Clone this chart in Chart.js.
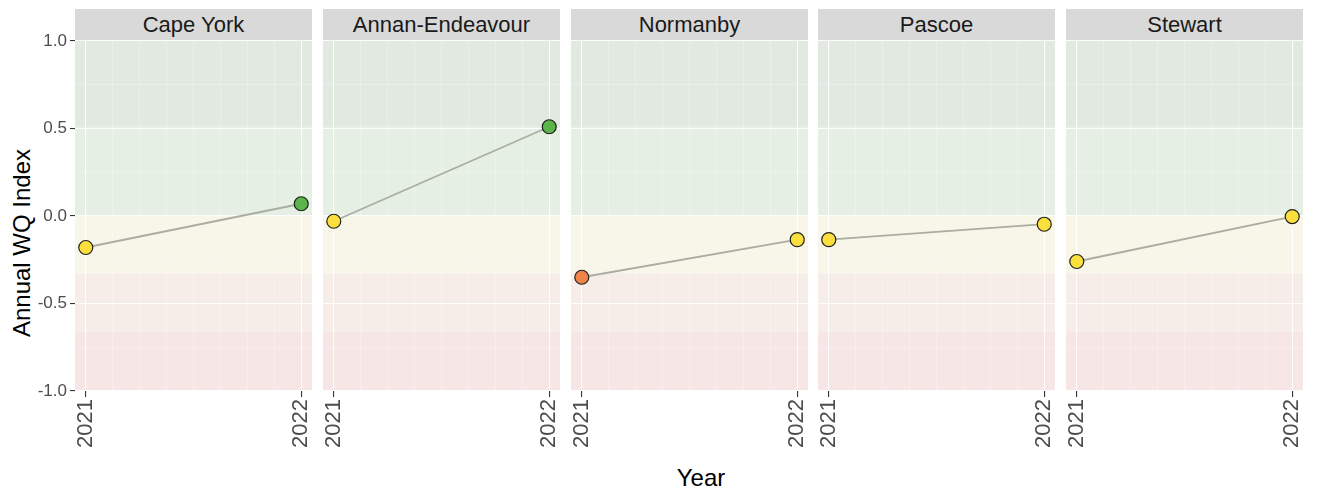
<!DOCTYPE html>
<html lang="en">
<head>
<meta charset="UTF-8">
<title>Annual WQ Index by basin</title>
<script src="https://cdn.jsdelivr.net/npm/chart.js"></script>
<style>
  body { margin: 0; background: #fff; font-family: "Liberation Sans", Arial, sans-serif; }
  #wrap { position: relative; width: 1318px; height: 491px; overflow: hidden; }
  canvas { position: absolute; top: 0; }
  .strip {
    position: absolute; top: 9px; height: 32px; line-height: 32px;
    background: #d9d9d9; color: #1a1a1a; font-size: 22px; text-align: center;
  }
  #xtitle {
    position: absolute; top: 464px; left: 601px; width: 200px;
    text-align: center; font-size: 24px; color: #000;
  }
  #ytitle {
    position: absolute; left: -78px; top: 229px; width: 200px; height: 28px; line-height: 28px;
    text-align: center; font-size: 24px; color: #000;
    transform: rotate(-90deg);
  }
</style>
</head>
<body>
<div id="wrap">
  <div id="ytitle">Annual WQ Index</div>
  <div id="xtitle">Year</div>
</div>

<script>
  // facets and values
  const basins = ["Cape York", "Annan-Endeavour", "Normanby", "Pascoe", "Stewart"];
  const years = [2021, 2022];
  const capeYork = [-0.18, 0.07];
  const annanEndeavour = [-0.03, 0.51];
  const normanby = [-0.35, -0.135];
  const pascoe = [-0.135, -0.047];
  const stewart = [-0.26, -0.003];
  const basinValues = [capeYork, annanEndeavour, normanby, pascoe, stewart];

  // y axis ticks
  const yMajor = [1, 0.5, 0, -0.5, -1];
  const yTickLabels = ["1.0", "0.5", "0.0", "-0.5", "-1.0"];
  const yGrid = [1, 0.75, 0.5, 0.25, 0, -0.25, -0.5, -0.75, -1];
  const xGrid = [2021, 2021.125, 2021.25, 2021.375, 2021.5, 2021.625, 2021.75, 2021.875, 2022];

  // grade bands (top to bottom)
  const bandEdges = [1, 0.51, 0, -0.33, -0.66, -1];
  const bandFills = ["#e1e9e1", "#e6efe4", "#f8f6e8", "#f6ece8", "#f6e6e5"];
  const gradeColours = ["#2e8b3e", "#5bb54a", "#fbe03d", "#f0834a", "#e0463c"];

  function gradeColour(v) {
    for (let i = 0; i < bandEdges.length - 1; i++) {
      if (i === 0 ? v > bandEdges[1] : v >= bandEdges[i + 1]) return gradeColours[i];
    }
    return gradeColours[gradeColours.length - 1];
  }

  // layout
  const panelLeft = [75, 323, 571, 818, 1066];
  const panelWidth = 237;
  const yAxisWidth = 75;
  const canvasHeight = 451;
  const fontFamily = "'Liberation Sans', Arial, sans-serif";

  const bandPlugin = {
    id: "bands",
    beforeDraw(chart) {
      const { ctx, chartArea: a, scales: { y } } = chart;
      ctx.save();
      for (let i = 0; i < bandFills.length; i++) {
        const t = y.getPixelForValue(bandEdges[i]);
        const b = y.getPixelForValue(bandEdges[i + 1]);
        ctx.fillStyle = bandFills[i];
        ctx.fillRect(a.left, t, a.right - a.left, b - t);
      }
      ctx.restore();
    }
  };

  const wrap = document.getElementById("wrap");

  basins.forEach((name, i) => {
    const first = i === 0;
    const strip = document.createElement("div");
    strip.className = "strip";
    strip.style.left = panelLeft[i] + "px";
    strip.style.width = panelWidth + "px";
    strip.textContent = name;
    wrap.appendChild(strip);

    const cv = document.createElement("canvas");
    cv.width = first ? yAxisWidth + panelWidth : panelWidth;
    cv.height = canvasHeight;
    cv.style.left = (first ? 0 : panelLeft[i]) + "px";
    wrap.appendChild(cv);

    const vals = basinValues[i];
    new Chart(cv.getContext("2d"), {
      type: "line",
      data: {
        datasets: [{
          data: years.map((yr, k) => ({ x: yr, y: vals[k] })),
          borderColor: "#a9ada2",
          borderWidth: 1.8,
          pointRadius: 7,
          pointBorderWidth: 1.2,
          pointBorderColor: "#1f1f1f",
          pointBackgroundColor: vals.map(gradeColour),
          clip: false
        }]
      },
      plugins: [bandPlugin],
      options: {
        responsive: false,
        devicePixelRatio: 1,
        animation: false,
        layout: { autoPadding: false, padding: { top: 41, left: 0, right: 0, bottom: 0 } },
        plugins: { legend: { display: false }, tooltip: { enabled: false } },
        scales: {
          x: {
            type: "linear",
            min: 2020.95,
            max: 2022.05,
            afterBuildTicks: s => { s.ticks = xGrid.map(v => ({ value: v })); },
            afterFit: s => { s.height = 60; s.paddingLeft = 0; s.paddingRight = 0; },
            border: { display: false },
            grid: {
              color: c => years.includes(c.tick.value) ? "rgba(255,255,255,0.9)" : "rgba(255,255,255,0.45)",
              lineWidth: c => years.includes(c.tick.value) ? 1.1 : 0.6,
              tickLength: 6,
              tickColor: c => years.includes(c.tick.value) ? "#333333" : "rgba(0,0,0,0)"
            },
            ticks: {
              autoSkip: false,
              minRotation: 90,
              maxRotation: 90,
              padding: 2,
              color: "#4d4d4d",
              font: { size: 22, family: fontFamily },
              callback: v => years.includes(v) ? String(v) : ""
            }
          },
          y: {
            min: -1,
            max: 1,
            afterBuildTicks: s => { s.ticks = yGrid.map(v => ({ value: v })); },
            afterFit: s => { s.width = first ? yAxisWidth : 0; s.paddingTop = 0; s.paddingBottom = 0; },
            border: { display: false },
            grid: {
              color: c => yMajor.includes(c.tick.value) ? "rgba(255,255,255,0.9)" : "rgba(255,255,255,0.45)",
              lineWidth: c => yMajor.includes(c.tick.value) ? 1.1 : 0.6,
              drawTicks: first,
              tickLength: 5,
              tickColor: c => yMajor.includes(c.tick.value) ? "#333333" : "rgba(0,0,0,0)"
            },
            ticks: {
              display: first,
              padding: 3,
              color: "#4d4d4d",
              font: { size: 17, family: fontFamily },
              callback: v => {
                const k = yMajor.indexOf(v);
                return k >= 0 ? yTickLabels[k] : "";
              }
            }
          }
        }
      }
    });
  });
</script>
</body>
</html>
